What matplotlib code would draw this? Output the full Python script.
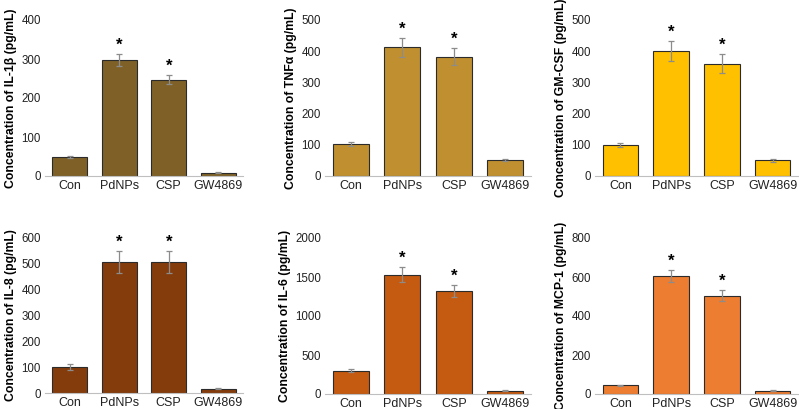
import matplotlib
matplotlib.use('Agg')
import matplotlib.pyplot as plt
import numpy as np

plt.rcParams['font.family'] = ['Liberation Sans', 'DejaVu Sans']

groups = ['Con', 'PdNPs', 'CSP', 'GW4869']

il1b = [49, 297, 247, 8]
il1b_err = [2, 15, 12, 1]
tnfa = [102, 413, 382, 52]
tnfa_err = [7, 30, 27, 3]
gmcsf = [100, 400, 360, 50]
gmcsf_err = [7, 33, 30, 5]
il8 = [100, 505, 505, 17]
il8_err = [10, 42, 42, 3]
il6 = [300, 1530, 1320, 40]
il6_err = [20, 95, 80, 5]
mcp1 = [45, 605, 505, 17]
mcp1_err = [3, 30, 27, 2]

# which groups get a star
signif = [False, True, True, False]

panels = [
    ('IL-1β', il1b, il1b_err, '#7f6128', 400, 100),
    ('TNFα', tnfa, tnfa_err, '#c09030', 500, 100),
    ('GM-CSF', gmcsf, gmcsf_err, '#ffc000', 500, 100),
    ('IL-8', il8, il8_err, '#843c0c', 600, 100),
    ('IL-6', il6, il6_err, '#c55a11', 2000, 500),
    ('MCP-1', mcp1, mcp1_err, '#ed7d31', 800, 200),
]

W, H = 799, 409
fig = plt.figure(figsize=(W / 100, H / 100), dpi=100)

# axes boxes in pixels: left, right, top, bottom
boxes = [
    (45, 243, 20, 176),
    (325, 531, 20, 176),
    (595, 798, 20, 176),
    (45, 243, 237, 393),
    (325, 531, 238, 394),
    (595, 798, 238, 394),
]

for (name, vals, errs, color, ymax, step), (l, r, t, b) in zip(panels, boxes):
    ax = fig.add_axes([l / W, 1 - b / H, (r - l) / W, (b - t) / H])
    x = np.arange(len(groups))
    ax.bar(x, vals, width=0.7, color=color, edgecolor='#2b2b2b', linewidth=0.8, zorder=2)
    ax.errorbar(x, vals, yerr=errs, fmt='none', ecolor='#8c8c8c', elinewidth=0.9,
                capsize=2, capthick=0.9, zorder=3)
    for xi, v, e, s in zip(x, vals, errs, signif):
        if s:
            ax.annotate('*', (xi, v + e), xytext=(0, 1), textcoords='offset points',
                        ha='center', va='bottom', fontsize=12, fontweight='bold')
    ax.set_xlim(-0.5, len(groups) - 0.5)
    ax.set_ylim(0, ymax)
    ax.set_yticks(np.arange(0, ymax + 1, step))
    ax.set_xticks(x)
    ax.set_xticklabels(groups)
    ax.tick_params(axis='both', length=0, colors='#222222', pad=3)
    ax.tick_params(axis='y', labelsize=8.3)
    ax.tick_params(axis='x', labelsize=9)
    for sp in ['top', 'right', 'left']:
        ax.spines[sp].set_visible(False)
    ax.spines['bottom'].set_color('#bfbfbf')
    ax.set_ylabel(f'Concentration of {name} (pg/mL)', fontsize=8.8, fontweight='bold',
                  labelpad=3)

fig.savefig('out.png', dpi=100)
